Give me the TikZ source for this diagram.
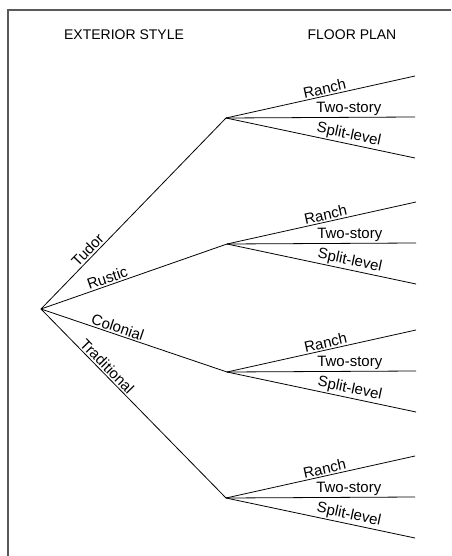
\documentclass[tikz,border=0pt]{standalone}
\usepackage{fontspec}
\setmainfont{Liberation Sans}
\begin{document}
\begin{tikzpicture}[x=1pt,y=-1pt,
  branch/.style={line width=0.8pt, line join=miter},
  lab/.style={font=\fontsize{15}{17}\selectfont, sloped, above, inner sep=1.5pt},
  head/.style={font=\fontsize{14}{17}\selectfont, inner sep=0pt}]
\useasboundingbox (0,0) rectangle (451,556);
% frame (top and left edges)
\draw[line width=1.3pt, black!65] (8,556) -- (8,10) -- (451,10);
% headers
\node[head] (h1) at (124,35) {EXTERIOR STYLE};
\node[head] (h2) at (352,35) {FLOOR PLAN};
% points
\coordinate (root) at (41,309);
\coordinate (tudor) at (226,118);
\coordinate (rustic) at (227,244);
\coordinate (colonial) at (227,372);
\coordinate (trad) at (226,498);
% first level
\draw[branch] (root) -- node[lab, pos=0.28] {Tudor} (tudor);
\draw[branch] (root) -- node[lab, pos=0.37] {Rustic} (rustic);
\draw[branch] (root) -- node[lab, pos=0.40] {Colonial} (colonial);
\draw[branch] (root) -- node[lab, pos=0.33] {Traditional} (trad);
% second level
\foreach \m/\n in {tudor/a, rustic/b, colonial/c, trad/d}{
  \coordinate (\n r) at ([xshift=189pt,yshift=42pt]\m);
  \coordinate (\n t) at ([xshift=189pt,yshift=1pt]\m);
  \coordinate (\n s) at ([xshift=189pt,yshift=-40pt]\m);
  \draw[branch] (\m) -- node[lab, pos=0.53] {Ranch} (\n r);
  \draw[branch] (\m) -- node[lab, pos=0.65] {Two-story} (\n t);
  \draw[branch] (\m) -- node[lab, pos=0.64] {Split-level} (\n s);
}
\end{tikzpicture}
\end{document}
